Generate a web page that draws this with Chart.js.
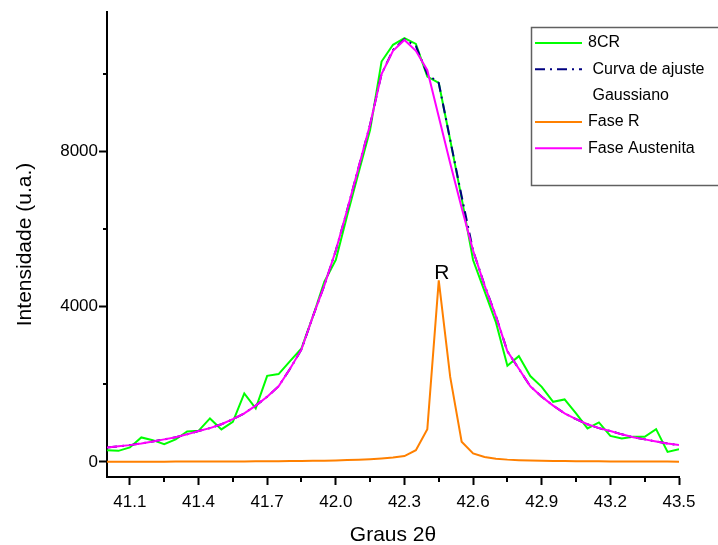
<!DOCTYPE html>
<html>
<head>
<meta charset="utf-8">
<script src="https://cdn.jsdelivr.net/npm/chart.js@4.4.0/dist/chart.umd.min.js"></script>
<style>
  html, body { margin: 0; padding: 0; background: #fff; }
  #wrap { width: 718px; height: 545px; }
</style>
</head>
<body>
<div id="wrap"><canvas id="myChart" width="718" height="545"></canvas></div>
<script>
// 2theta positions (degrees)
const theta = [
  41.00, 41.05, 41.10, 41.15, 41.20, 41.25, 41.30, 41.35, 41.40, 41.45,
  41.50, 41.55, 41.60, 41.65, 41.70, 41.75, 41.80, 41.85, 41.90, 41.95,
  42.00, 42.05, 42.10, 42.15, 42.20, 42.25, 42.30, 42.35, 42.40, 42.45,
  42.50, 42.55, 42.60, 42.65, 42.70, 42.75, 42.80, 42.85, 42.90, 42.95,
  43.00, 43.05, 43.10, 43.15, 43.20, 43.25, 43.30, 43.35, 43.40, 43.45,
  43.50
];

// measured pattern, sample 8CR
const cr8 = [
  302, 284, 372, 630, 560, 457, 578, 784, 800, 1120,
  836, 1032, 1765, 1378, 2219, 2263, 2600, 2926, 3750, 4645,
  5205, 6358, 7468, 8560, 10323, 10754, 10926, 10779, 9935, 9770,
  8300, 6800, 5205, 4405, 3595, 2477, 2727, 2212, 1935, 1548,
  1610, 1249, 862, 1017, 671, 604, 645, 645, 844, 258,
  328
];

// gaussian fit
const ajuste = [
  372, 400, 432, 475, 525, 580, 635, 710, 795, 870,
  970, 1100, 1250, 1450, 1680, 1950, 2400, 2900, 3750, 4550,
  5450, 6500, 7600, 8700, 10000, 10620, 10900, 10720, 10000, 9770,
  8300, 6850, 5450, 4560, 3760, 2850, 2400, 1950, 1680, 1450,
  1250, 1100, 970, 870, 795, 710, 635, 580, 525, 475,
  432
];

// R phase component
const faseR = [
  4, 4, 5, 5, 6, 6, 7, 8, 8, 9,
  10, 11, 12, 14, 15, 17, 20, 23, 27, 32,
  38, 46, 57, 70, 88, 110, 150, 300, 845, 4680,
  2190, 520, 220, 125, 82, 58, 44, 35, 28, 24,
  20, 17, 15, 13, 12, 10, 9, 8, 8, 7,
  6
];

// austenite component
const austenita = [
  372, 400, 432, 475, 525, 580, 635, 710, 795, 870,
  970, 1100, 1250, 1450, 1680, 1950, 2400, 2900, 3750, 4550,
  5450, 6500, 7600, 8700, 10000, 10600, 10880, 10600, 10100, 8900,
  7700, 6550, 5450, 4550, 3750, 2850, 2400, 1950, 1680, 1450,
  1250, 1100, 970, 870, 795, 710, 635, 580, 525, 475,
  432
];

const xTickLabels = ['41.1', '41.4', '41.7', '42.0', '42.3', '42.6', '42.9', '43.2', '43.5'];
const xMinor = [41.25, 41.55, 41.85, 42.15, 42.45, 42.75, 43.05, 43.35];
const yTickLabels = ['0', '4000', '8000'];
const yMinor = [2000, 6000, 10000];

const FONT = 'Arial, "Liberation Sans", sans-serif';

function pts(vals) {
  return theta.map((x, i) => ({ x: x, y: vals[i] }));
}

// minor ticks, peak label and the framed legend
const extras = {
  id: 'extras',
  afterDraw(chart) {
    const ctx = chart.ctx;
    const xs = chart.scales.x;
    const ys = chart.scales.y;
    ctx.save();

    ctx.strokeStyle = '#000';
    ctx.lineWidth = 2;
    xMinor.forEach(v => {
      const px = Math.round(xs.getPixelForValue(v));
      ctx.beginPath();
      ctx.moveTo(px, xs.top);
      ctx.lineTo(px, xs.top + 5);
      ctx.stroke();
    });
    yMinor.forEach(v => {
      const py = Math.round(ys.getPixelForValue(v));
      ctx.beginPath();
      ctx.moveTo(ys.right, py);
      ctx.lineTo(ys.right - 4, py);
      ctx.stroke();
    });

    // label on top of the R peak
    const iR = faseR.indexOf(Math.max(...faseR));
    ctx.fillStyle = '#000';
    ctx.font = '21px ' + FONT;
    ctx.textAlign = 'center';
    ctx.textBaseline = 'alphabetic';
    ctx.fillText('R', xs.getPixelForValue(theta[iR]) + 3, ys.getPixelForValue(faseR[iR]) - 1);

    // legend box
    const bx = 531.5, by = 27.5, bw = 220, bh = 158;
    ctx.fillStyle = '#fff';
    ctx.fillRect(bx, by, bw, bh);
    ctx.strokeStyle = '#606060';
    ctx.lineWidth = 1.5;
    ctx.strokeRect(bx, by, bw, bh);

    ctx.font = '16px ' + FONT;
    ctx.textAlign = 'left';
    ctx.textBaseline = 'middle';
    let y = 43;
    chart.data.datasets.forEach(ds => {
      const lines = Array.isArray(ds.label) ? ds.label : [ds.label];
      ctx.strokeStyle = ds.borderColor;
      ctx.lineWidth = 2;
      ctx.setLineDash(ds.borderDash || []);
      ctx.beginPath();
      ctx.moveTo(535, y);
      ctx.lineTo(582, y);
      ctx.stroke();
      ctx.setLineDash([]);
      ctx.fillStyle = '#000';
      lines.forEach(t => {
        ctx.fillText(t, 588, y);
        y += 26.3;
      });
    });
    ctx.restore();
  }
};

const lineBase = { borderWidth: 2, pointRadius: 0, fill: false, tension: 0 };

new Chart(document.getElementById('myChart').getContext('2d'), {
  type: 'line',
  data: {
    datasets: [
      Object.assign({ label: '8CR', data: pts(cr8), borderColor: '#00ff00', order: 4 }, lineBase),
      Object.assign({ label: [' Curva de ajuste', ' Gaussiano'], data: pts(ajuste), borderColor: '#000080',
        borderDash: [10, 5, 2, 5], order: 3 }, lineBase),
      Object.assign({ label: 'Fase R', data: pts(faseR), borderColor: '#ff8000', order: 2 }, lineBase),
      Object.assign({ label: 'Fase Austenita', data: pts(austenita), borderColor: '#ff00ff', order: 1 }, lineBase)
    ]
  },
  options: {
    responsive: false,
    animation: false,
    devicePixelRatio: 1,
    layout: { padding: { top: 12, right: 39, left: 0, bottom: 0 } },
    plugins: { legend: { display: false }, tooltip: { enabled: false } },
    scales: {
      x: {
        type: 'linear',
        min: 41.0,
        max: 43.5,
        afterBuildTicks: s => { s.ticks = xTickLabels.map(t => ({ value: parseFloat(t) })); },
        afterFit: s => { s.height = 68; },
        ticks: {
          callback: v => v.toFixed(1),
          font: { family: FONT, size: 17 },
          color: '#000',
          padding: 7,
          maxRotation: 0,
          autoSkip: false
        },
        grid: { drawOnChartArea: false, drawTicks: true, tickLength: 8, tickWidth: 2, tickColor: '#000' },
        border: { display: true, color: '#000', width: 2 },
        title: {
          display: true,
          text: 'Graus 2θ',
          color: '#000',
          font: { family: FONT, size: 21, lineHeight: 1 },
          padding: { top: 0, bottom: -1 }
        }
      },
      y: {
        type: 'linear',
        min: -390,
        max: 11600,
        afterBuildTicks: s => { s.ticks = yTickLabels.map(t => ({ value: Number(t) })); },
        afterFit: s => { s.width = 107; },
        ticks: {
          callback: v => String(v),
          font: { family: FONT, size: 17 },
          color: '#000',
          padding: 1
        },
        grid: { drawOnChartArea: false, drawTicks: true, tickLength: 8, tickWidth: 2, tickColor: '#000' },
        border: { display: true, color: '#000', width: 2 },
        title: {
          display: true,
          text: 'Intensidade (u.a.)',
          color: '#000',
          font: { family: FONT, size: 21, lineHeight: 1 },
          padding: { top: 15, bottom: 0 }
        }
      }
    }
  },
  plugins: [extras]
});
</script>
</body>
</html>
